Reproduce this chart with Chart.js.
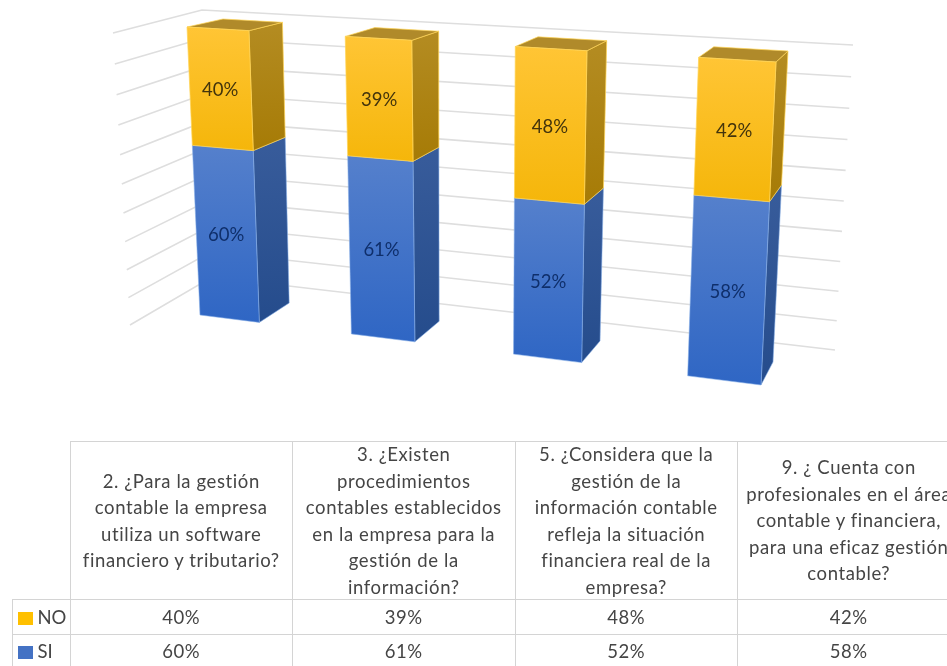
<!DOCTYPE html>
<html lang="es">
<head>
<meta charset="utf-8">
<title>Gestión contable</title>
<script src="https://cdn.jsdelivr.net/npm/chart.js"></script>
<style>
  html, body { margin:0; padding:0; background:#fff; overflow:hidden; width:947px; height:666px; }
  #chart { position:absolute; left:0; top:0; filter:blur(.45px); }
  #dataTable { position:absolute; left:11.5px; top:441px; width:948px; table-layout:fixed; border-collapse:collapse;
    font-family:Lato, sans-serif; font-size:18.5px; letter-spacing:.6px; color:#454545; text-align:center; filter:blur(.45px); }
  #dataTable td { border:1.5px solid #d4d4d4; padding:0; }
  #dataTable tr.head td { height:157px; line-height:26.5px; white-space:pre; }
  #dataTable tr.head td div { margin:-2px 0; }
  #dataTable tr.head td:first-child { border:none; border-right:1.5px solid #d4d4d4; border-bottom:1.5px solid #d4d4d4; }
  #dataTable tr.row td { height:33.5px; }
  #dataTable td.key { text-align:left; padding-left:5px; box-sizing:border-box; letter-spacing:0; white-space:nowrap; }
  #dataTable .swatch { display:inline-block; width:15px; height:13px; margin-right:5px; vertical-align:-1px; }
</style>
</head>
<body>
<canvas id="chart" width="947" height="430"></canvas>
<table id="dataTable"></table>
<script>
// data
const categories = [
  "2. ¿Para la gestión\ncontable la empresa\nutiliza un software\nfinanciero y tributario?",
  "3. ¿Existen\nprocedimientos\ncontables establecidos\nen la empresa para la\ngestión de la\ninformación?",
  "5. ¿Considera que la\ngestión de la\ninformación contable\nrefleja la situación\nfinanciera real de la\nempresa?",
  "9. ¿ Cuenta con\nprofesionales en el área\ncontable y financiera,\npara una eficaz gestión\ncontable?"
];
const siValues = [60, 61, 52, 58];
const noValues = [40, 39, 48, 42];
const seriesNames = ["SI", "NO"];

// colours per series: [front top, front bottom, side top, side bottom, edge, label]
const siStyle = ["#5580cc", "#2f66c4", "#385c9b", "#254c8c", "rgba(134,174,232,.55)", "#0f2f6b"];
const noStyle = ["#ffc535", "#f5b60a", "#b48c22", "#a67b06", "rgba(255,212,85,.7)", "#43340c"];
const swatchColors = { SI: "#4472c4", NO: "#ffc000" };

// where the box sits on the page, corners go TL, TR, BR, BL
const frontQuad = [[187,27],[776,62],[761,385],[200,315]];
const backQuad  = [[223,19],[788,51],[773,362],[232,296]];
const wallBack  = [[202,10],[853,45],[835,350],[212,277]];
const wallLeft  = [[113,33],[202,10],[212,277],[130,325]];
const barShare = 0.4;

// unit square to quad
function makeProjection(q){
  const [[x0,y0],[x1,y1],[x2,y2],[x3,y3]] = q;
  const dx1 = x1-x2, dx2 = x3-x2, sx = x0-x1+x2-x3;
  const dy1 = y1-y2, dy2 = y3-y2, sy = y0-y1+y2-y3;
  const den = dx1*dy2 - dx2*dy1;
  const g = (sx*dy2 - dx2*sy)/den, h = (dx1*sy - sx*dy1)/den;
  const a = x1-x0+g*x1, b = x3-x0+h*x3, d = y1-y0+g*y1, e = y3-y0+h*y3;
  return (u,v) => {
    const w = g*u + h*v + 1;
    return [(a*u + b*v + x0)/w, (d*u + e*v + y0)/w];
  };
}
const toFront = makeProjection(frontQuad);
const toBack = makeProjection(backQuad);
const toWallBack = makeProjection(wallBack);
const toWallLeft = makeProjection(wallLeft);

function poly(ctx, pts, fill, edge){
  ctx.beginPath();
  pts.forEach((p,i) => i ? ctx.lineTo(p[0],p[1]) : ctx.moveTo(p[0],p[1]));
  ctx.closePath();
  ctx.fillStyle = fill;
  ctx.fill();
  if (edge) {
    ctx.strokeStyle = edge;
    ctx.lineWidth = 1;
    ctx.stroke();
  }
}

function vGrad(ctx, y0, y1, c0, c1){
  const g = ctx.createLinearGradient(0, y0, 0, y1);
  g.addColorStop(0, c0);
  g.addColorStop(1, c1);
  return g;
}

// draws the walls and 3D bars from the positions the scales gave the bar elements
const box3d = {
  id: "box3d",
  beforeDatasetsDraw(chart){
    const { ctx, chartArea:a, scales } = chart;
    ctx.save();
    ctx.strokeStyle = "#dedede";
    ctx.lineWidth = 1.6;
    scales.y.ticks.forEach(t => {
      const v = (scales.y.getPixelForValue(t.value) - a.top) / a.height;
      const l = toWallLeft(0,v), c = toWallLeft(1,v), r = toWallBack(1,v);
      ctx.beginPath();
      ctx.moveTo(l[0],l[1]);
      ctx.lineTo(c[0],c[1]);
      ctx.lineTo(r[0],r[1]);
      ctx.stroke();
    });
    ctx.restore();
  },
  afterDatasetsDraw(chart){
    const { ctx, chartArea:a } = chart;
    // span of the four bars across the plot, used to map to the quads
    const first = chart.getDatasetMeta(0).data[0], last = chart.getDatasetMeta(0).data[3];
    const x0 = first.x - first.width/2, x1 = last.x + last.width/2;
    const U = x => (x - x0)/(x1 - x0);
    const V = y => (y - a.top)/a.height;
    ctx.save();
    chart.data.datasets.forEach((ds,di) => {
      const st = di === 0 ? siStyle : noStyle;
      chart.getDatasetMeta(di).data.forEach((bar,i) => {
        const ul = U(bar.x - bar.width/2), ur = U(bar.x + bar.width/2);
        const vt = V(bar.y), vb = V(bar.base);
        const fTL = toFront(ul,vt), fTR = toFront(ur,vt), fBR = toFront(ur,vb), fBL = toFront(ul,vb);
        const bTL = toBack(ul,vt), bTR = toBack(ur,vt), bBR = toBack(ur,vb);
        poly(ctx, [fTR,bTR,bBR,fBR], vGrad(ctx,bTR[1],fBR[1],st[2],st[3]), st[4]);
        if (di === 1) poly(ctx, [fTL,bTL,bTR,fTR], "#b08a2a", st[4]);
        poly(ctx, [fTL,fTR,fBR,fBL], vGrad(ctx,fTL[1],fBR[1],st[0],st[1]), st[4]);
        const mid = toFront((ul+ur)/2, (vt+vb)/2);
        ctx.fillStyle = st[5];
        ctx.font = "18.5px Lato, sans-serif";
        ctx.textAlign = "center";
        ctx.textBaseline = "middle";
        ctx.fillText(ds.data[i] + "%", mid[0], mid[1] + 1);
      });
    });
    ctx.restore();
  }
};

new Chart(document.getElementById("chart"), {
  type: "bar",
  data: {
    labels: categories,
    datasets: [
      { label: seriesNames[0], data: siValues, backgroundColor: "transparent" },
      { label: seriesNames[1], data: noValues, backgroundColor: "transparent" }
    ]
  },
  options: {
    responsive: false,
    animation: false,
    datasets: { bar: { barPercentage: barShare, categoryPercentage: 1 } },
    layout: { padding: 0 },
    plugins: { legend: { display:false }, tooltip: { enabled:false } },
    scales: {
      x: { stacked:true, display:false },
      y: { stacked:true, min:0, max:100,
           ticks: { stepSize:10, display:false }, grid: { display:false }, border: { display:false } }
    }
  },
  plugins: [box3d]
});

// data table below the chart
const tableEl = document.getElementById("dataTable");
let html = '<colgroup><col style="width:58px">' + categories.map(() => '<col style="width:222.5px">').join("") + "</colgroup>";
html += '<tr class="head"><td></td>' + categories.map(c => "<td><div>" + c + "</div></td>").join("") + "</tr>";
[["NO", noValues], ["SI", siValues]].forEach(([name, vals]) => {
  html += '<tr class="row"><td class="key"><span class="swatch" style="background:' + swatchColors[name] + '"></span>' + name + "</td>"
    + vals.map(v => "<td>" + v + "%</td>").join("") + "</tr>";
});
tableEl.innerHTML = html;
</script>
</body>
</html>
